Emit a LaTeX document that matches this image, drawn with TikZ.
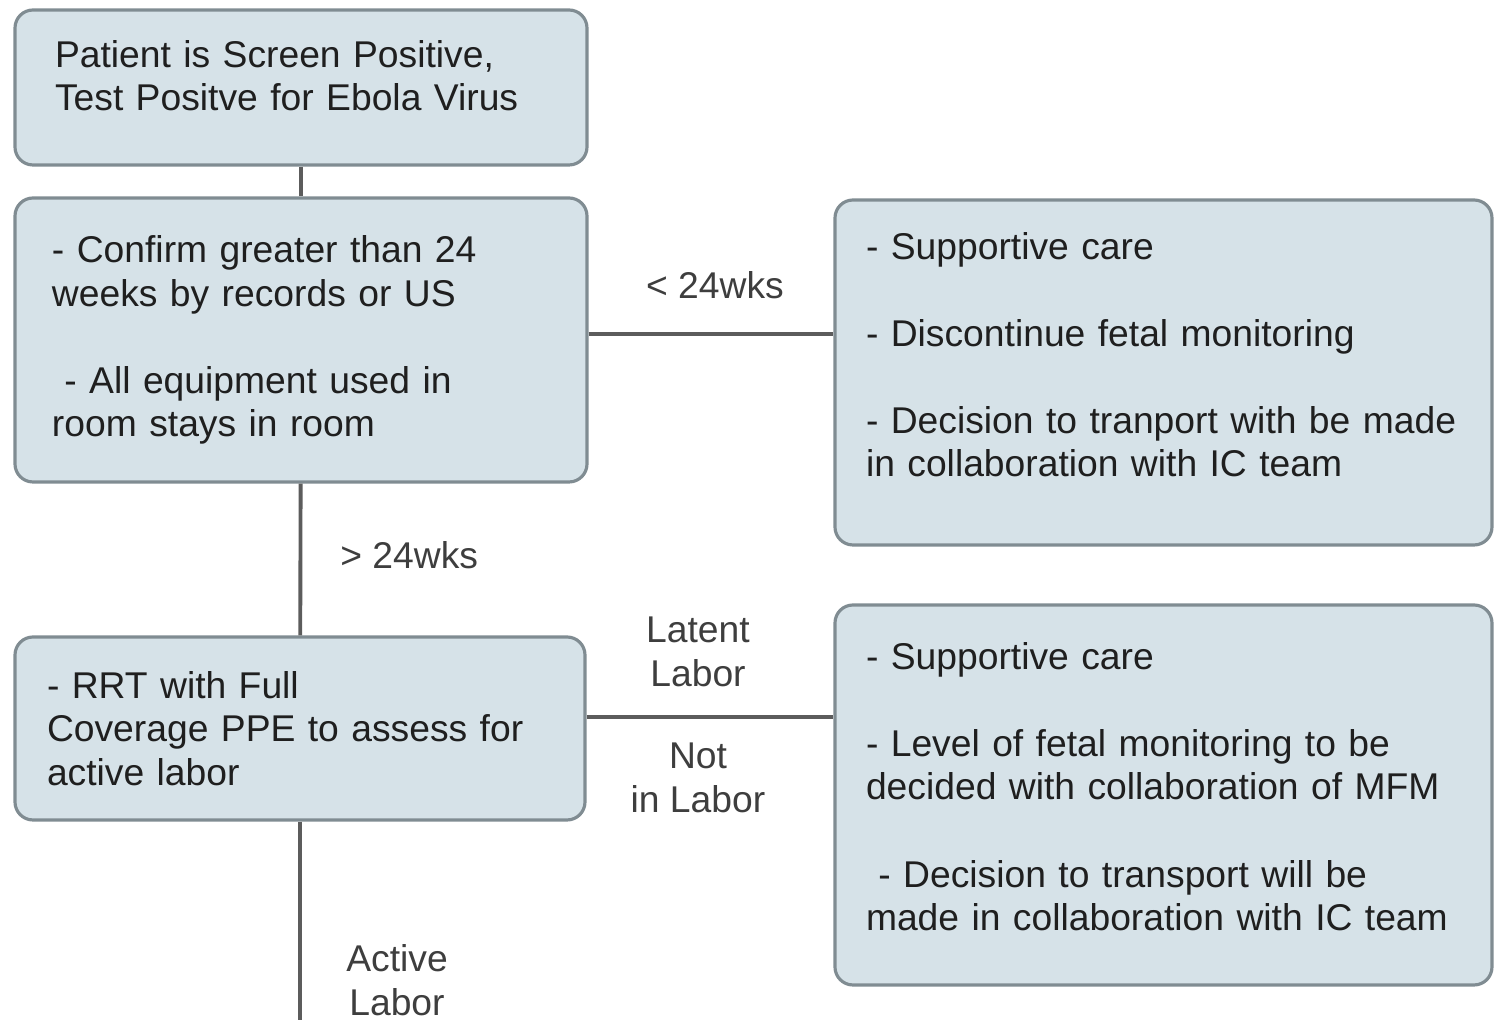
\documentclass[tikz,border=0pt]{standalone}
\usepackage{fontspec}
\setmainfont{Liberation Sans}
\usepackage{tikz}
\usetikzlibrary{positioning}
\definecolor{boxfill}{RGB}{214,226,232}
\definecolor{boxline}{RGB}{128,140,146}
\definecolor{linkgray}{RGB}{92,92,92}
\definecolor{lblgray}{RGB}{62,62,62}
\newcommand{\lift}[1]{\rule[-#1]{0pt}{0pt}} % extra depth to lift the text
\tikzset{
box/.style={ % Sets the properties for each box
draw=boxline,
line width=0.9pt,
fill=boxfill,
rounded corners=0.18cm,
align=left,
inner ysep=0pt,
text=black!88,
font=\fontsize{10.6}{12.4}\selectfont},
link/.style={ % Connectors between boxes
draw=linkgray,
line width=1.1pt},
lbl/.style={ % Labels on the connectors
align=center,
text=lblgray,
font=\fontsize{10.6}{12.4}\selectfont}}

\begin{document}
\begin{tikzpicture}
\useasboundingbox (0,0) rectangle (14.94,-10.20);
\node[box, inner xsep=0.40cm, text width=4.92cm, minimum height=1.55cm] (screen) at (3.01,-0.875)
  {Patient is Screen Positive,\\Test Positve for Ebola Virus\lift{0.24cm}};
\node[box, inner xsep=0.37cm, text width=4.98cm, minimum height=2.84cm] (confirm) at (3.01,-3.40)
  {- Confirm greater than 24\\weeks by records or US\\[12.4pt]\ - All equipment used in\\room stays in room};
\node[box, inner xsep=0.28cm, text width=6.01cm, minimum height=3.45cm] (early) at (11.635,-3.725)
  {\hspace{0.03cm}- Supportive care\\[12.4pt]\hspace{0.03cm}- Discontinue fetal monitoring\\[12.4pt]\hspace{0.03cm}- Decision to tranport with be made\\\hspace{0.03cm}in collaboration with IC team\lift{0.36cm}};
\node[box, inner xsep=0.32cm, text width=5.06cm, minimum height=1.83cm] (rrt) at (3.00,-7.285)
  {- RRT with Full\\Coverage PPE to assess for\\active labor};
\node[box, inner xsep=0.28cm, text width=6.01cm, minimum height=3.80cm] (latentcare) at (11.635,-7.95)
  {\hspace{0.03cm}- Supportive care\\[12.4pt]\hspace{0.03cm}- Level of fetal monitoring to be\\\hspace{0.03cm}decided with collaboration of MFM\\[12.4pt]\hspace{0.03cm}\ - Decision to transport will be\\\hspace{0.03cm}made in collaboration with IC team\lift{0.17cm}};
\coordinate (down) at (3.00,-10.20);

\draw[link] (screen) -- (confirm);
\draw[link] ([yshift=0.6mm]confirm.east) -- ([yshift=0.6mm]confirm.east -| early.west);
\draw[link] (confirm) -- (rrt);
\draw[link] ([yshift=1.15mm]rrt.east) -- ([yshift=1.15mm]rrt.east -| latentcare.west);
\draw[link] (rrt) -- (down);

\node[lbl] (lt) at (7.15,-2.85) {< 24wks};
\node[lbl, anchor=west] (gt) at (3.28,-5.55) {> 24wks};
\node[lbl] (latent) at (6.98,-6.52) {Latent\\Labor};
\node[lbl] (notlabor) at (6.98,-7.78) {Not\\in Labor};
\node[lbl] (active) at (3.97,-9.80) {Active\\Labor};
\end{tikzpicture}
\end{document}
